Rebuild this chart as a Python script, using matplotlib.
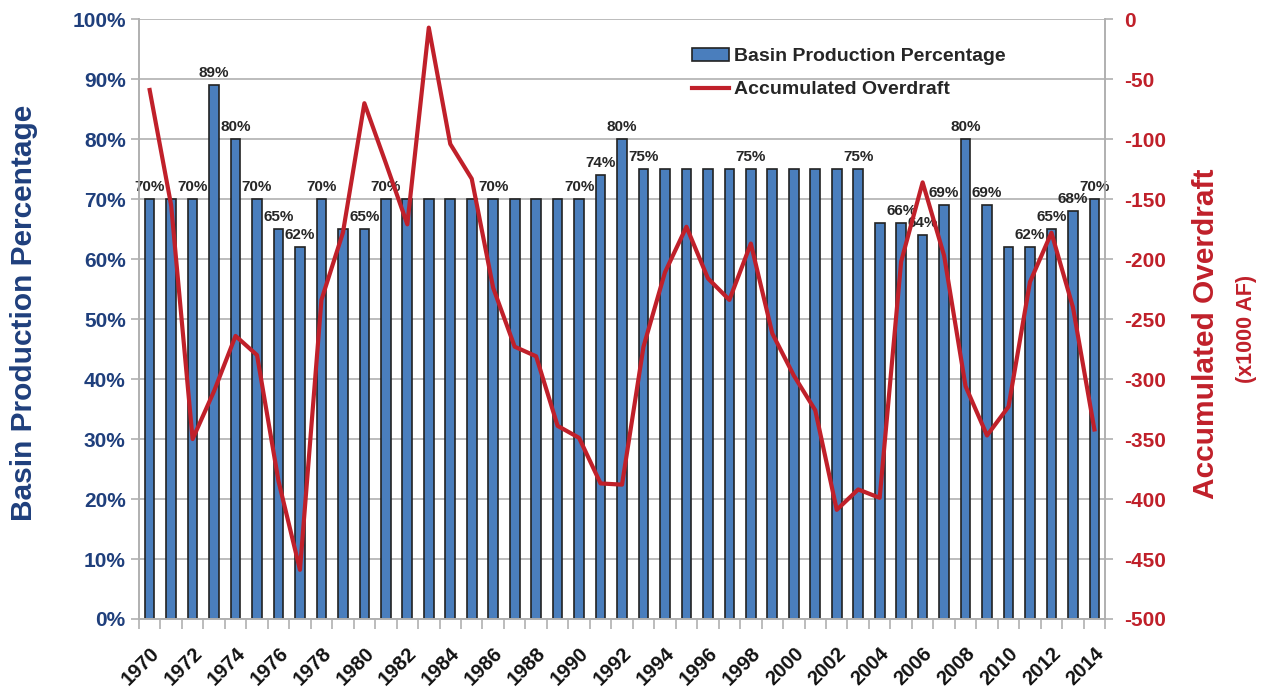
import numpy as np
import matplotlib
matplotlib.use("Agg")
import matplotlib.pyplot as plt
from matplotlib.patches import Patch
from matplotlib.lines import Line2D

plt.rcParams['font.family'] = ['Liberation Sans', 'DejaVu Sans']
plt.rcParams['font.weight'] = 'bold'
plt.rcParams['axes.unicode_minus'] = False

years = list(range(1970, 2015))
basin_pct = [70, 70, 70, 89, 80, 70, 65, 62, 70, 65,
             65, 70, 70, 70, 70, 70, 70, 70, 70, 70,
             70, 74, 80, 75, 75, 75, 75, 75, 75, 75,
             75, 75, 75, 75, 66, 66, 64, 69, 80, 69,
             62, 62, 65, 68, 70]
overdraft = [-59, -155, -350, -310, -264, -280, -385, -459, -234, -178,
             -70, -120, -171, -7, -104, -133, -224, -273, -281, -339,
             -349, -387, -388, -273, -211, -173, -216, -234, -187, -262,
             -297, -326, -409, -392, -399, -202, -136, -197, -306, -347,
             -323, -219, -178, -240, -342]
# years that carry a percentage label above the bar
labelled_years = [1970, 1972, 1973, 1974, 1975, 1976, 1977, 1978, 1980, 1981,
                  1986, 1990, 1991, 1992, 1993, 1998, 2003, 2005, 2006, 2007,
                  2008, 2009, 2011, 2012, 2013, 2014]

navy = '#1F3F7C'
red = '#C0202A'
bar_blue = '#4A7EBD'
grid_gray = '#B0B0B0'

fig = plt.figure(figsize=(12.63, 6.87), dpi=100)
ax = fig.add_axes([0.110, 0.099, 0.765, 0.873])
x = np.arange(len(years))

ax.bar(x, basin_pct, width=0.45, color=bar_blue, edgecolor='#222222',
       linewidth=1.2, zorder=2)
for xi, yr, v in zip(x, years, basin_pct):
    if yr in labelled_years:
        ax.annotate(f'{v}%', (xi, v), xytext=(0, 4), textcoords='offset points',
                    ha='center', va='bottom', fontsize=11, fontweight='bold',
                    color='#262626', zorder=5)

ax.set_xlim(-0.5, len(years) - 0.5)
ax.set_ylim(0, 100)
ax.set_yticks(np.arange(0, 101, 10))
ax.set_yticklabels([f'{v}%' for v in range(0, 101, 10)])
ax.yaxis.grid(True, color=grid_gray, linewidth=1.2, zorder=0)
ax.set_axisbelow(True)
ax.tick_params(axis='y', colors=grid_gray, labelcolor=navy, labelsize=15,
               length=6, width=1.2)
for lab in ax.get_yticklabels():
    lab.set_fontweight('bold')

ax.set_xticks(x[::2])
ax.set_xticklabels([str(y) for y in years[::2]], rotation=45, ha='right',
                   rotation_mode='anchor', fontsize=14.5, fontweight='bold',
                   color='#111111')
ax.set_xticks(np.arange(-0.5, len(years), 1), minor=True)
ax.tick_params(axis='x', which='major', length=0, pad=18)
ax.tick_params(axis='x', which='minor', length=7, width=1.2, color=grid_gray)

ax.set_ylabel('Basin Production Percentage', fontsize=21.5, fontweight='bold',
              color=navy)
ax.yaxis.set_label_coords(-0.104, 0.51)

for s in ['left', 'bottom', 'right', 'top']:
    ax.spines[s].set_color(grid_gray)
    ax.spines[s].set_linewidth(1.2)
ax.spines['top'].set_visible(False)

ax2 = ax.twinx()
ax2.plot(x, overdraft, color=red, linewidth=3, zorder=4)
ax2.set_ylim(-500, 0)
ax2.set_yticks(np.arange(-500, 1, 50))
ax2.tick_params(axis='y', colors=grid_gray, labelcolor=red, labelsize=15,
                length=6, width=1.2, pad=8)
for lab in ax2.get_yticklabels():
    lab.set_fontweight('bold')
for s in ['left', 'bottom', 'right', 'top']:
    ax2.spines[s].set_color(grid_gray)
    ax2.spines[s].set_linewidth(1.2)
ax2.spines['top'].set_visible(False)

fig.text(0.955, 0.514, 'Accumulated Overdraft', rotation=90, ha='center',
         va='center', fontsize=21.5, fontweight='bold', color=red)
fig.text(0.987, 0.521, '(x1000 AF)', rotation=90, ha='center', va='center',
         fontsize=15.5, fontweight='bold', color=red)

handles = [Patch(facecolor=bar_blue, edgecolor='#222222', linewidth=1.2),
           Line2D([0], [0], color=red, linewidth=3)]
ax2.legend(handles, ['Basin Production Percentage', 'Accumulated Overdraft'],
           loc='upper left', bbox_to_anchor=(0.554, 0.982), frameon=False,
           prop={'weight': 'bold', 'size': 14}, handlelength=1.9,
           handleheight=0.7, handletextpad=0.25, labelspacing=0.8,
           labelcolor='#262626')

fig.savefig('out.png', dpi=100)
